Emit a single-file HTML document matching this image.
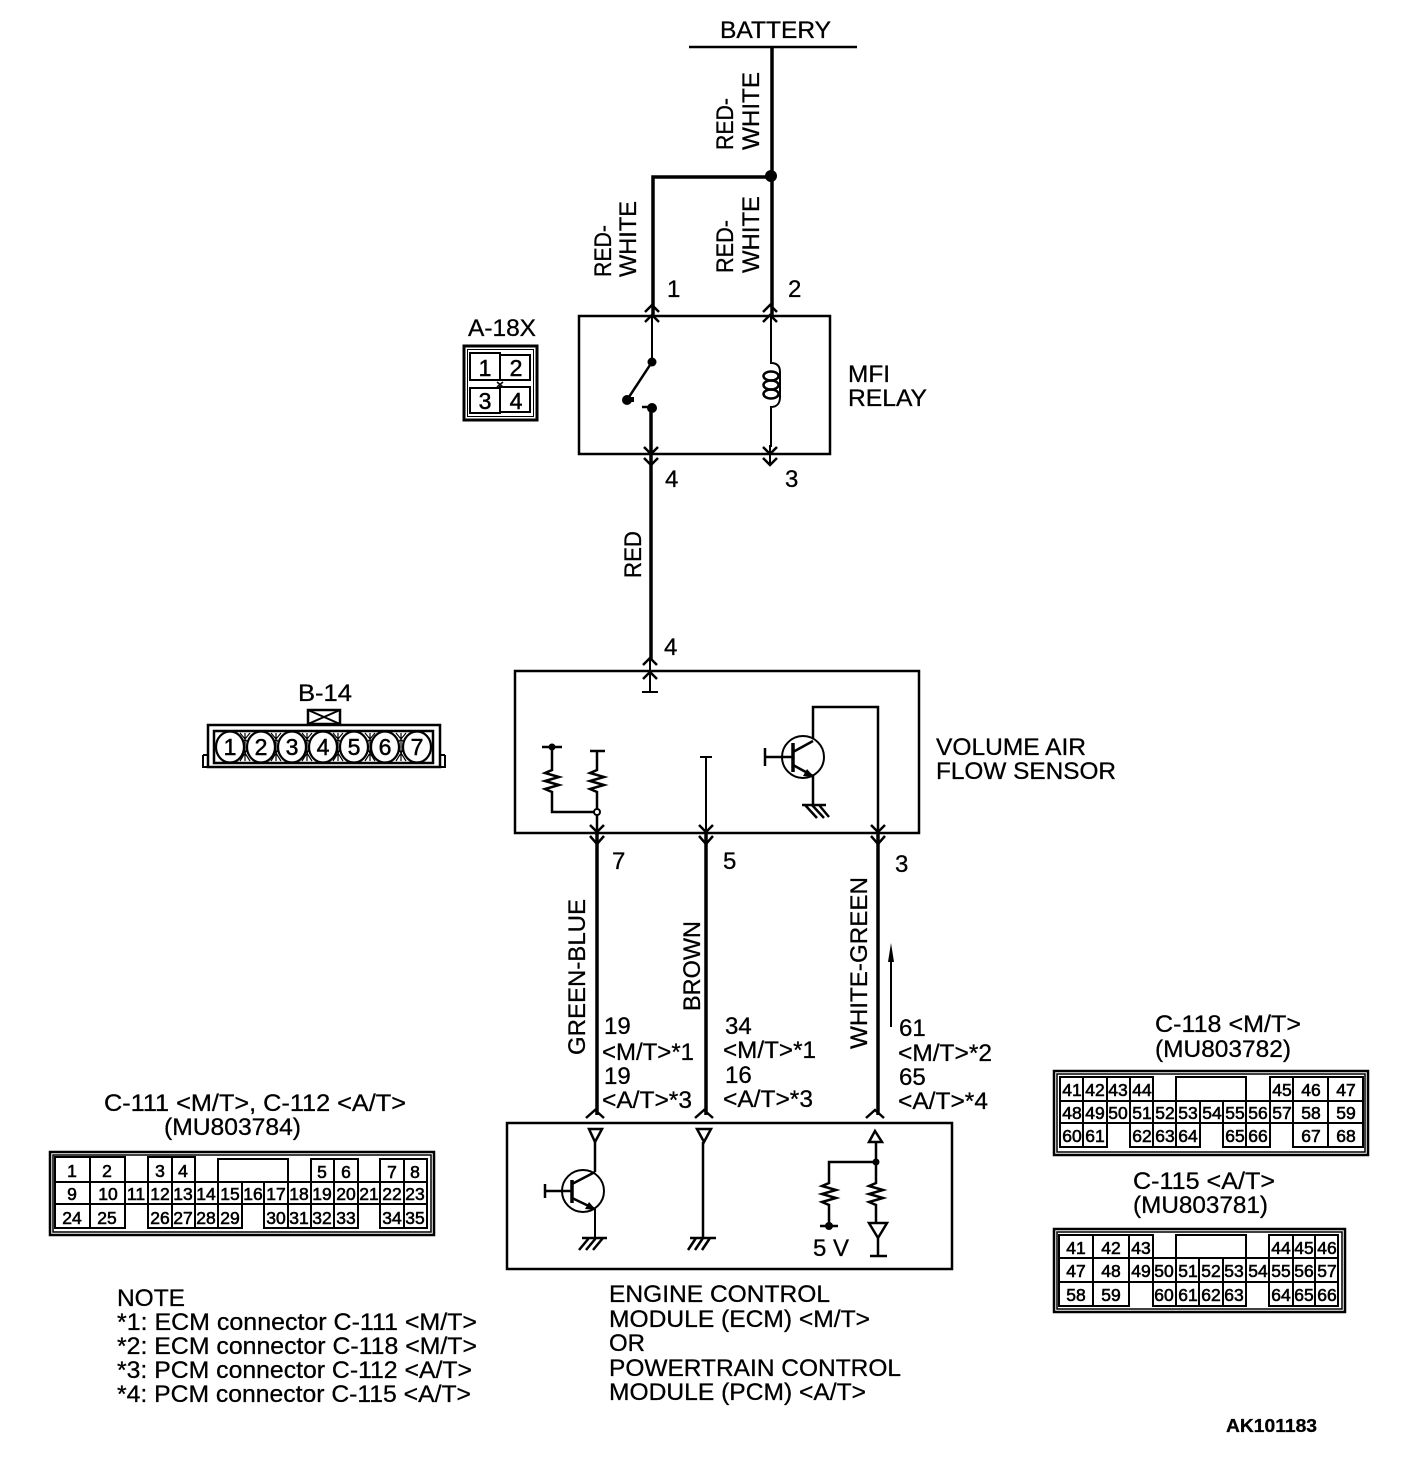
<!DOCTYPE html>
<html><head><meta charset="utf-8"><style>
html,body{margin:0;padding:0;background:#fff}
svg{display:block}
text{font-family:"Liberation Sans",sans-serif;fill:#000;font-size:24px;stroke:#000;stroke-width:.3}
.n{font-size:17.5px;text-anchor:middle;stroke-width:.6}
.d{font-size:23px;text-anchor:middle;stroke-width:.5}
.l{fill:none;stroke:#000;stroke-width:2}
.t{fill:none;stroke:#000;stroke-width:3.5}
.b{fill:none;stroke:#000;stroke-width:2.5}
.f{fill:#000;stroke:none}
.c rect{fill:none;stroke:#000;stroke-width:2}
</style></head><body>
<svg width="1408" height="1460" viewBox="0 0 1408 1460" xmlns="http://www.w3.org/2000/svg">
<rect width="1408" height="1460" fill="#fff"/>

<!-- Battery / top wires -->
<path class="b" d="M689 47H857"/>
<path class="t" d="M772 47V315"/>
<path class="t" d="M653 315V177H772"/>
<circle class="f" cx="771" cy="176" r="6"/>
<text x="720" y="38" textLength="111" lengthAdjust="spacingAndGlyphs">BATTERY</text>
<text transform="translate(733,150) rotate(-90)" textLength="52" lengthAdjust="spacingAndGlyphs">RED-</text>
<text transform="translate(759,150) rotate(-90)" textLength="78" lengthAdjust="spacingAndGlyphs">WHITE</text>
<text transform="translate(611,277) rotate(-90)" textLength="52" lengthAdjust="spacingAndGlyphs">RED-</text>
<text transform="translate(636,277) rotate(-90)" textLength="76" lengthAdjust="spacingAndGlyphs">WHITE</text>
<text transform="translate(733,273) rotate(-90)" textLength="53" lengthAdjust="spacingAndGlyphs">RED-</text>
<text transform="translate(759,273) rotate(-90)" textLength="77" lengthAdjust="spacingAndGlyphs">WHITE</text>
<text x="667" y="297">1</text>
<text x="788" y="297">2</text>

<!-- MFI Relay -->
<rect class="b" x="579" y="316" width="251" height="138"/>
<path class="b" d="M645 312L652 305L659 312M645 322L652 315L659 322M763 312L770 305L777 312M763 322L770 315L777 322"/>
<path class="l" d="M652 315V362"/>
<circle class="f" cx="652" cy="362" r="4.5"/>
<path class="b" d="M652 362L627 400"/>
<circle class="f" cx="627" cy="400" r="5"/>
<path class="f" d="M627 397h7v5h-7z"/>
<circle class="f" cx="652" cy="408" r="5"/>
<path class="b" d="M642 407H652"/>
<path class="l" d="M771 315V363C778 363 780 367 780 372M780 372V397C780 403 777 407 771 407V447"/>
<ellipse cx="771" cy="376" rx="7.5" ry="4.5" fill="none" stroke="#000" stroke-width="2.5"/>
<ellipse cx="771" cy="385" rx="7.5" ry="4.5" fill="none" stroke="#000" stroke-width="2.5"/>
<ellipse cx="771" cy="394" rx="7.5" ry="4.5" fill="none" stroke="#000" stroke-width="2.5"/>
<path class="t" d="M651 408V455"/>
<path class="t" d="M651 455V660"/>
<path class="b" d="M644 447L651 454L658 447M644 458L651 465L658 458M763 447L770 454L777 447M763 458L770 465L777 458"/>
<path class="l" d="M770 445V465"/>
<text x="848" y="382" textLength="42" lengthAdjust="spacingAndGlyphs">MFI</text>
<text x="848" y="406" textLength="79" lengthAdjust="spacingAndGlyphs">RELAY</text>
<text x="665" y="487">4</text>
<text x="785" y="487">3</text>
<text transform="translate(641,578) rotate(-90)" textLength="47" lengthAdjust="spacingAndGlyphs">RED</text>

<!-- A-18X -->
<text x="468" y="336" textLength="68" lengthAdjust="spacingAndGlyphs">A-18X</text>
<rect x="464" y="346" width="73" height="74" fill="none" stroke="#000" stroke-width="3"/>
<rect x="467.5" y="349.5" width="66" height="67" fill="none" stroke="#000" stroke-width="1"/>
<g class="c">
<rect x="470" y="353" width="30" height="27"/><rect x="500" y="355" width="30" height="25"/>
<rect x="470" y="388" width="30" height="25"/><rect x="500" y="387" width="30" height="25"/>
</g>
<path d="M497 382L503 387M503 382L497 387" stroke="#000" stroke-width="1.5"/>
<text class="d" x="485" y="376">1</text><text class="d" x="516" y="376">2</text>
<text class="d" x="485" y="409">3</text><text class="d" x="516" y="409">4</text>

<!-- B-14 -->
<text x="298" y="701" textLength="54" lengthAdjust="spacingAndGlyphs">B-14</text>
<rect class="b" x="308" y="710" width="32" height="14"/>
<path class="l" d="M308 710L340 724M340 710L308 724"/>
<rect class="b" x="208" y="725" width="232" height="42"/>
<rect class="b" x="214" y="731" width="219" height="32"/>
<path class="l" d="M203 755H208M203 755V767H208M445 755H440M445 755V767H440"/>
<path stroke="#000" stroke-width="1.2" fill="none" d="M245 733V761M276 733V761M307 733V761M338 733V761M370 733V761M401 733V761M240 733L250 745L240 761M250 733L240 745L250 761M271 733L281 745L271 761M281 733L271 745L281 761M302 733L312 745L302 761M312 733L302 745L312 761M333 733L343 745L333 761M343 733L333 745L343 761M365 733L375 745L365 761M375 733L365 745L375 761M396 733L406 745L396 761M406 733L396 745L406 761"/>
<g fill="#fff" stroke="#000" stroke-width="2.2">
<ellipse cx="230" cy="747" rx="14" ry="15.5"/><ellipse cx="261" cy="747" rx="14" ry="15.5"/><ellipse cx="292" cy="747" rx="14" ry="15.5"/><ellipse cx="323" cy="747" rx="14" ry="15.5"/><ellipse cx="354" cy="747" rx="14" ry="15.5"/><ellipse cx="385" cy="747" rx="14" ry="15.5"/><ellipse cx="417" cy="747" rx="14" ry="15.5"/>
</g>
<text class="d" x="230" y="755">1</text><text class="d" x="261" y="755">2</text><text class="d" x="292" y="755">3</text><text class="d" x="323" y="755">4</text><text class="d" x="354" y="755">5</text><text class="d" x="385" y="755">6</text><text class="d" x="417" y="755">7</text>

<!-- Volume air flow sensor -->
<text x="664" y="655">4</text>
<rect class="b" x="515" y="671" width="404" height="162"/>
<path class="b" d="M643 665L650 658L657 665M643 679L650 672L657 679"/>
<path class="l" d="M650 660V692M642 692H658"/>
<path class="b" d="M542 747H562M590 751H605"/>
<circle class="f" cx="552" cy="747" r="3.5"/>
<path class="b" d="M552 747V770L545 773L559 777L545 781L559 785L545 789L552 792V812H597"/>
<path class="b" d="M597 751V770L590 773L604 777L590 781L604 785L590 789L597 792V812"/>
<circle cx="597" cy="812" r="3" fill="#fff" stroke="#000" stroke-width="2"/>
<path class="b" d="M597 815V833"/>
<path class="t" d="M597 833V1115"/>
<path class="b" d="M590 825L597 832L604 825M590 836L597 844L604 836"/>
<path class="l" d="M700 757H712M706 757V833"/>
<path class="t" d="M706 833V1115"/>
<path class="b" d="M699 825L706 832L713 825M699 836L706 844L713 836"/>
<circle cx="803" cy="757" r="21" fill="none" stroke="#000" stroke-width="2"/>
<path class="b" d="M813 738V707H878V833"/>
<path class="t" d="M878 833V1115"/>
<path class="b" d="M871 825L878 832L885 825M871 836L878 844L885 836"/>
<path class="b" d="M765 757H793M765 748V766"/>
<path class="t" d="M793 743V772"/>
<path class="b" d="M793 752L813 741"/>
<path class="b" d="M793 765L813 776"/>
<path class="f" d="M814 777L803 776L807 769Z"/>
<path class="b" d="M813 776V805M802 805H826M805 805L817 818M812 805L824 818M819 805L829 817"/>
<text x="936" y="755" textLength="150" lengthAdjust="spacingAndGlyphs">VOLUME AIR</text>
<text x="936" y="779" textLength="180" lengthAdjust="spacingAndGlyphs">FLOW SENSOR</text>

<!-- mid labels -->
<text x="612" y="869">7</text><text x="723" y="869">5</text><text x="895" y="872">3</text>
<text transform="translate(585,1055) rotate(-90)" textLength="156" lengthAdjust="spacingAndGlyphs">GREEN-BLUE</text>
<text transform="translate(700,1011) rotate(-90)" textLength="90" lengthAdjust="spacingAndGlyphs">BROWN</text>
<text transform="translate(867,1049) rotate(-90)" textLength="172" lengthAdjust="spacingAndGlyphs">WHITE-GREEN</text>
<path class="l" d="M891 1027V950"/><path class="f" d="M891 943L888 962H894Z"/>
<text x="604" y="1034">19</text>
<text x="602" y="1060" textLength="92" lengthAdjust="spacingAndGlyphs">&lt;M/T&gt;*1</text>
<text x="604" y="1084">19</text>
<text x="602" y="1108" textLength="90" lengthAdjust="spacingAndGlyphs">&lt;A/T&gt;*3</text>
<text x="725" y="1034">34</text>
<text x="723" y="1058" textLength="93" lengthAdjust="spacingAndGlyphs">&lt;M/T&gt;*1</text>
<text x="725" y="1083">16</text>
<text x="723" y="1107" textLength="90" lengthAdjust="spacingAndGlyphs">&lt;A/T&gt;*3</text>
<text x="899" y="1036">61</text>
<text x="898" y="1061" textLength="94" lengthAdjust="spacingAndGlyphs">&lt;M/T&gt;*2</text>
<text x="899" y="1085">65</text>
<text x="898" y="1109" textLength="90" lengthAdjust="spacingAndGlyphs">&lt;A/T&gt;*4</text>

<!-- ECM box -->
<path class="b" d="M586 1118L595 1110L604 1118M695 1118L704 1110L713 1118M866 1118L875 1110L884 1118"/>
<rect class="b" x="507" y="1123" width="445" height="146"/>
<path class="b" d="M589 1129H602L595 1142ZM697 1129H711L704 1142ZM875 1131L882 1142H869Z"/>
<path class="b" d="M595 1142V1172"/>
<circle cx="583" cy="1191" r="21" fill="none" stroke="#000" stroke-width="2"/>
<path class="b" d="M545 1191H572M545 1184V1198"/>
<path class="t" d="M572 1180V1203"/>
<path class="b" d="M572 1184L595 1172M572 1198L595 1209"/>
<path class="f" d="M596 1210L585 1209L589 1202Z"/>
<path class="l" d="M595 1209V1238"/>
<path class="b" d="M582 1238H607M589 1238L579 1250M596 1238L586 1250M603 1238L593 1250"/>
<path class="b" d="M703 1142V1238M690 1238H716M696 1238L688 1250M703 1238L695 1250M710 1238L702 1250"/>
<path class="b" d="M876 1142V1183L869 1186L883 1190L869 1194L883 1198L869 1202L876 1205V1223"/>
<path class="b" d="M876 1162H829V1183L822 1186L836 1190L822 1194L836 1198L822 1202L829 1205V1226"/>
<circle class="f" cx="876" cy="1162" r="3.5"/>
<circle class="f" cx="829" cy="1226" r="4"/>
<path class="b" d="M820 1226H838"/>
<path class="b" d="M869 1223H887L878 1238ZM878 1238V1256M870 1256H887"/>
<text x="813" y="1256" textLength="36" lengthAdjust="spacingAndGlyphs">5 V</text>

<!-- C-111 -->
<text x="104" y="1111" textLength="302" lengthAdjust="spacingAndGlyphs">C-111 &lt;M/T&gt;, C-112 &lt;A/T&gt;</text>
<text x="164" y="1135" textLength="137" lengthAdjust="spacingAndGlyphs">(MU803784)</text>
<rect class="b" x="50" y="1152" width="384" height="83"/>
<rect x="53" y="1155" width="378" height="77" fill="none" stroke="#000" stroke-width="1.5"/>
<g class="c">
<rect x="55" y="1157" width="35" height="25"/><rect x="90" y="1157" width="35" height="25"/><rect x="148" y="1157" width="24" height="25"/><rect x="172" y="1157" width="23" height="25"/><rect x="218" y="1159" width="70" height="23"/><rect x="311" y="1159" width="23" height="23"/><rect x="334" y="1159" width="24" height="23"/><rect x="380" y="1159" width="24" height="23"/><rect x="404" y="1159" width="23" height="23"/>
<rect x="55" y="1182" width="35" height="22"/><rect x="90" y="1182" width="35" height="22"/><rect x="125" y="1182" width="23" height="22"/><rect x="148" y="1182" width="24" height="22"/><rect x="172" y="1182" width="23" height="22"/><rect x="195" y="1182" width="23" height="22"/><rect x="218" y="1182" width="24" height="22"/><rect x="242" y="1182" width="22" height="22"/><rect x="264" y="1182" width="24" height="22"/><rect x="288" y="1182" width="23" height="22"/><rect x="311" y="1182" width="23" height="22"/><rect x="334" y="1182" width="24" height="22"/><rect x="358" y="1182" width="22" height="22"/><rect x="380" y="1182" width="24" height="22"/><rect x="404" y="1182" width="23" height="22"/>
<rect x="55" y="1204" width="35" height="24"/><rect x="90" y="1204" width="35" height="24"/><rect x="148" y="1204" width="24" height="24"/><rect x="172" y="1204" width="23" height="24"/><rect x="195" y="1204" width="23" height="24"/><rect x="218" y="1204" width="24" height="24"/><rect x="264" y="1204" width="24" height="24"/><rect x="288" y="1204" width="23" height="24"/><rect x="311" y="1204" width="23" height="24"/><rect x="334" y="1204" width="24" height="24"/><rect x="380" y="1204" width="24" height="24"/><rect x="404" y="1204" width="23" height="24"/>
</g>
<g>
<text class="n" x="72" y="1177">1</text><text class="n" x="107" y="1177">2</text><text class="n" x="160" y="1177">3</text><text class="n" x="183" y="1177">4</text><text class="n" x="322" y="1178">5</text><text class="n" x="346" y="1178">6</text><text class="n" x="392" y="1178">7</text><text class="n" x="415" y="1178">8</text>
<text class="n" x="72" y="1200">9</text><text class="n" x="108" y="1200">10</text><text class="n" x="136" y="1200">11</text><text class="n" x="160" y="1200">12</text><text class="n" x="183" y="1200">13</text><text class="n" x="206" y="1200">14</text><text class="n" x="230" y="1200">15</text><text class="n" x="253" y="1200">16</text><text class="n" x="276" y="1200">17</text><text class="n" x="299" y="1200">18</text><text class="n" x="322" y="1200">19</text><text class="n" x="346" y="1200">20</text><text class="n" x="369" y="1200">21</text><text class="n" x="392" y="1200">22</text><text class="n" x="415" y="1200">23</text>
<text class="n" x="72" y="1224">24</text><text class="n" x="107" y="1224">25</text><text class="n" x="160" y="1224">26</text><text class="n" x="183" y="1224">27</text><text class="n" x="206" y="1224">28</text><text class="n" x="230" y="1224">29</text><text class="n" x="276" y="1224">30</text><text class="n" x="299" y="1224">31</text><text class="n" x="322" y="1224">32</text><text class="n" x="346" y="1224">33</text><text class="n" x="392" y="1224">34</text><text class="n" x="415" y="1224">35</text>
</g>

<!-- C-118 -->
<text x="1155" y="1032" textLength="146" lengthAdjust="spacingAndGlyphs">C-118 &lt;M/T&gt;</text>
<text x="1155" y="1057" textLength="136" lengthAdjust="spacingAndGlyphs">(MU803782)</text>
<rect class="b" x="1054" y="1071" width="314" height="84"/>
<rect x="1057" y="1074" width="308" height="78" fill="none" stroke="#000" stroke-width="1.5"/>
<g class="c">
<rect x="1060" y="1077" width="23" height="24"/><rect x="1083" y="1077" width="24" height="24"/><rect x="1107" y="1077" width="23" height="24"/><rect x="1130" y="1077" width="23" height="24"/><rect x="1176" y="1077" width="70" height="24"/><rect x="1270" y="1077" width="23" height="24"/><rect x="1293" y="1077" width="35" height="24"/><rect x="1328" y="1077" width="35" height="24"/>
<rect x="1060" y="1101" width="23" height="22"/><rect x="1083" y="1101" width="24" height="22"/><rect x="1107" y="1101" width="23" height="22"/><rect x="1130" y="1101" width="23" height="22"/><rect x="1153" y="1101" width="23" height="22"/><rect x="1176" y="1101" width="24" height="22"/><rect x="1200" y="1101" width="23" height="22"/><rect x="1223" y="1101" width="23" height="22"/><rect x="1246" y="1101" width="24" height="22"/><rect x="1270" y="1101" width="23" height="22"/><rect x="1293" y="1101" width="35" height="22"/><rect x="1328" y="1101" width="35" height="22"/>
<rect x="1060" y="1123" width="23" height="24"/><rect x="1083" y="1123" width="24" height="24"/><rect x="1130" y="1123" width="23" height="24"/><rect x="1153" y="1123" width="23" height="24"/><rect x="1176" y="1123" width="24" height="24"/><rect x="1223" y="1123" width="23" height="24"/><rect x="1246" y="1123" width="24" height="24"/><rect x="1293" y="1123" width="35" height="24"/><rect x="1328" y="1123" width="35" height="24"/>
</g>
<g>
<text class="n" x="1072" y="1096">41</text><text class="n" x="1095" y="1096">42</text><text class="n" x="1118" y="1096">43</text><text class="n" x="1142" y="1096">44</text><text class="n" x="1282" y="1096">45</text><text class="n" x="1311" y="1096">46</text><text class="n" x="1346" y="1096">47</text>
<text class="n" x="1072" y="1119">48</text><text class="n" x="1095" y="1119">49</text><text class="n" x="1118" y="1119">50</text><text class="n" x="1142" y="1119">51</text><text class="n" x="1165" y="1119">52</text><text class="n" x="1188" y="1119">53</text><text class="n" x="1212" y="1119">54</text><text class="n" x="1235" y="1119">55</text><text class="n" x="1258" y="1119">56</text><text class="n" x="1282" y="1119">57</text><text class="n" x="1311" y="1119">58</text><text class="n" x="1346" y="1119">59</text>
<text class="n" x="1072" y="1142">60</text><text class="n" x="1095" y="1142">61</text><text class="n" x="1142" y="1142">62</text><text class="n" x="1165" y="1142">63</text><text class="n" x="1188" y="1142">64</text><text class="n" x="1235" y="1142">65</text><text class="n" x="1258" y="1142">66</text><text class="n" x="1311" y="1142">67</text><text class="n" x="1346" y="1142">68</text>
</g>

<!-- C-115 -->
<text x="1133" y="1189" textLength="142" lengthAdjust="spacingAndGlyphs">C-115 &lt;A/T&gt;</text>
<text x="1133" y="1213" textLength="135" lengthAdjust="spacingAndGlyphs">(MU803781)</text>
<rect class="b" x="1054" y="1229" width="291" height="83"/>
<rect x="1057" y="1232" width="285" height="77" fill="none" stroke="#000" stroke-width="1.5"/>
<g class="c">
<rect x="1059" y="1235" width="34" height="23"/><rect x="1093" y="1235" width="36" height="23"/><rect x="1129" y="1235" width="24" height="23"/><rect x="1176" y="1235" width="70" height="23"/><rect x="1269" y="1235" width="24" height="23"/><rect x="1293" y="1235" width="22" height="23"/><rect x="1315" y="1235" width="23" height="23"/>
<rect x="1059" y="1258" width="34" height="24"/><rect x="1093" y="1258" width="36" height="24"/><rect x="1129" y="1258" width="24" height="24"/><rect x="1153" y="1258" width="23" height="24"/><rect x="1176" y="1258" width="23" height="24"/><rect x="1199" y="1258" width="24" height="24"/><rect x="1223" y="1258" width="23" height="24"/><rect x="1246" y="1258" width="23" height="24"/><rect x="1269" y="1258" width="24" height="24"/><rect x="1293" y="1258" width="22" height="24"/><rect x="1315" y="1258" width="23" height="24"/>
<rect x="1059" y="1282" width="34" height="24"/><rect x="1093" y="1282" width="36" height="24"/><rect x="1153" y="1282" width="23" height="24"/><rect x="1176" y="1282" width="23" height="24"/><rect x="1199" y="1282" width="24" height="24"/><rect x="1223" y="1282" width="23" height="24"/><rect x="1269" y="1282" width="24" height="24"/><rect x="1293" y="1282" width="22" height="24"/><rect x="1315" y="1282" width="23" height="24"/>
</g>
<g>
<text class="n" x="1076" y="1254">41</text><text class="n" x="1111" y="1254">42</text><text class="n" x="1141" y="1254">43</text><text class="n" x="1281" y="1254">44</text><text class="n" x="1304" y="1254">45</text><text class="n" x="1327" y="1254">46</text>
<text class="n" x="1076" y="1277">47</text><text class="n" x="1111" y="1277">48</text><text class="n" x="1141" y="1277">49</text><text class="n" x="1164" y="1277">50</text><text class="n" x="1188" y="1277">51</text><text class="n" x="1211" y="1277">52</text><text class="n" x="1234" y="1277">53</text><text class="n" x="1258" y="1277">54</text><text class="n" x="1281" y="1277">55</text><text class="n" x="1304" y="1277">56</text><text class="n" x="1327" y="1277">57</text>
<text class="n" x="1076" y="1301">58</text><text class="n" x="1111" y="1301">59</text><text class="n" x="1164" y="1301">60</text><text class="n" x="1188" y="1301">61</text><text class="n" x="1211" y="1301">62</text><text class="n" x="1234" y="1301">63</text><text class="n" x="1281" y="1301">64</text><text class="n" x="1304" y="1301">65</text><text class="n" x="1327" y="1301">66</text>
</g>

<!-- Notes -->
<text x="117" y="1306" textLength="68" lengthAdjust="spacingAndGlyphs">NOTE</text>
<text x="117" y="1330" textLength="360" lengthAdjust="spacingAndGlyphs">*1: ECM connector C-111 &lt;M/T&gt;</text>
<text x="117" y="1354" textLength="360" lengthAdjust="spacingAndGlyphs">*2: ECM connector C-118 &lt;M/T&gt;</text>
<text x="117" y="1378" textLength="355" lengthAdjust="spacingAndGlyphs">*3: PCM connector C-112 &lt;A/T&gt;</text>
<text x="117" y="1402" textLength="354" lengthAdjust="spacingAndGlyphs">*4: PCM connector C-115 &lt;A/T&gt;</text>
<text x="609" y="1302" textLength="221" lengthAdjust="spacingAndGlyphs">ENGINE CONTROL</text>
<text x="609" y="1327" textLength="261" lengthAdjust="spacingAndGlyphs">MODULE (ECM) &lt;M/T&gt;</text>
<text x="609" y="1351" textLength="36" lengthAdjust="spacingAndGlyphs">OR</text>
<text x="609" y="1376" textLength="292" lengthAdjust="spacingAndGlyphs">POWERTRAIN CONTROL</text>
<text x="609" y="1400" textLength="257" lengthAdjust="spacingAndGlyphs">MODULE (PCM) &lt;A/T&gt;</text>
<text x="1226" y="1432" textLength="91" lengthAdjust="spacingAndGlyphs" style="font-size:18px;font-weight:bold">AK101183</text>
</svg>
</body></html>
